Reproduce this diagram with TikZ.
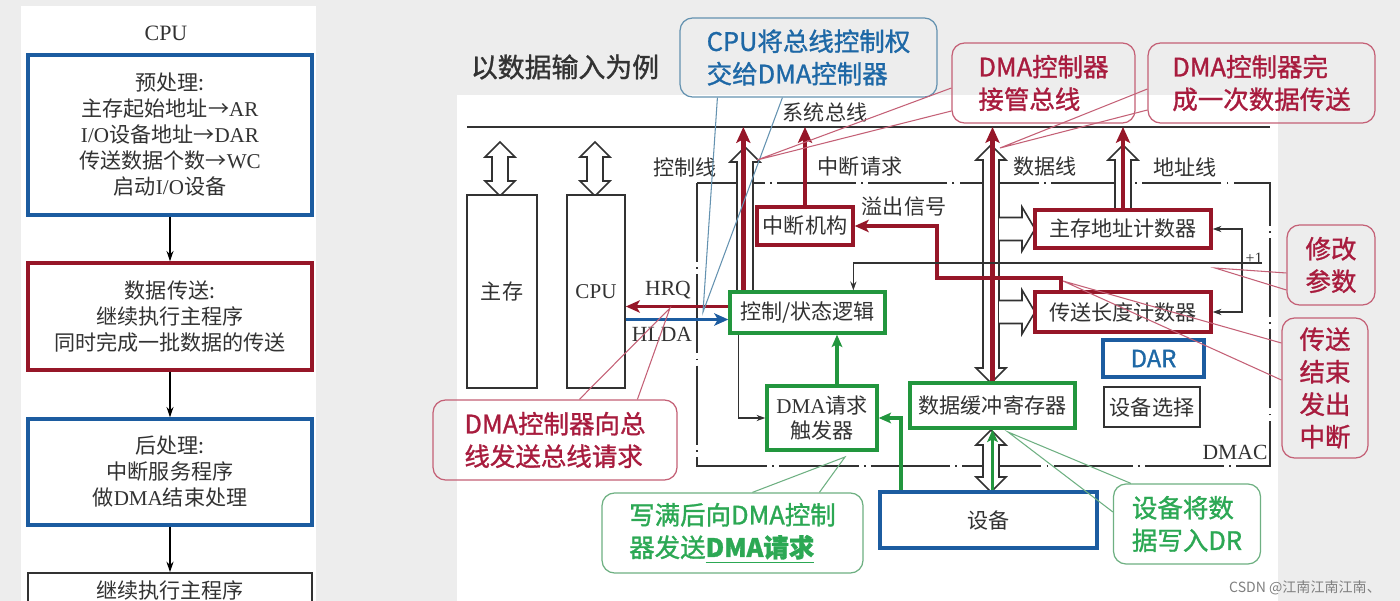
\documentclass[tikz,border=0pt]{standalone}
\usepackage{fontspec}
\setmainfont{Noto Sans CJK SC}
\newfontfamily\lat{Liberation Serif}
\newfontfamily\heavy{Noto Sans CJK SC}[FakeBold=1.2]
\usetikzlibrary{arrows.meta,positioning,calc}

\definecolor{bgray}{RGB}{237,237,237}
\definecolor{txt}{RGB}{50,50,50}
\definecolor{dred}{RGB}{150,22,40}
\definecolor{dblue}{RGB}{28,92,160}
\definecolor{dgreen}{RGB}{34,150,62}
\definecolor{cred}{RGB}{168,28,62}
\definecolor{credl}{RGB}{196,96,118}
\definecolor{cgreen}{RGB}{44,168,84}
\definecolor{cgreenl}{RGB}{110,176,130}
\definecolor{cblue}{RGB}{30,104,166}
\definecolor{cbluel}{RGB}{100,146,176}

% hollow bus arrows (x, top tip, bottom tip / end)
\newcommand{\hollowud}[3]{%
  \draw[hollow] (#1,#2) -- ++(15,15) -- ++(-7,0) -- ({#1+8},{#3-15}) -- ++(7,0)
    -- (#1,#3) -- ++(-15,-15) -- ++(7,0) -- ({#1-8},{#2+15}) -- ++(-7,0) -- cycle;}
\newcommand{\hollowup}[3]{%
  \draw[hollow] (#1,#2) -- ++(15,15) -- ++(-7,0) -- ({#1+8},#3) -- ({#1-8},#3)
    -- ({#1-8},{#2+15}) -- ++(-7,0) -- cycle;}
\newcommand{\hollowr}[3]{%
  \draw[hollow] (#1,{#3-11.5}) -- ({#2-13},{#3-11.5}) -- ({#2-13},{#3-22}) -- (#2,#3)
    -- ({#2-13},{#3+22}) -- ({#2-13},{#3+11.5}) -- (#1,{#3+11.5});}

\begin{document}
\begin{tikzpicture}[
    x=0.02cm, y=-0.02cm,
    every node/.style={text=txt},
    tag/.style={font=\fontsize{12}{14}\selectfont},
    flowbox/.style={draw=#1, line width=1.8pt, fill=white, minimum width=5.68cm,
        align=center, inner sep=0pt, font=\fontsize{12}{14.8}\selectfont},
    unit/.style={draw=#1, line width=1.9pt, fill=white, align=center, inner sep=0pt,
        font=\fontsize{12}{14.6}\selectfont},
    thinbox/.style={draw=txt, line width=0.9pt, fill=white, align=center, inner sep=0pt,
        font=\fontsize{12}{14.6}\selectfont},
    hollow/.style={draw=txt, line width=0.9pt, fill=white, line join=miter},
    bubble/.style={draw=#1, line width=0.7pt, rounded corners=0.25cm, align=left,
        inner sep=0pt, font=\heavy\fontsize{14.5}{18.5}\selectfont},
    tail/.style={draw=#1, line width=0.6pt},
    bus/.style={txt, line width=1.4pt},
    frame/.style={txt, line width=0.9pt, dash pattern=on 45pt off 3pt on 1pt off 3pt},
    flowarr/.style={black, line width=0.8pt, -{Stealth[length=6pt, width=4pt]}},
    redarr/.style={dred, line width=2.6pt, -{Stealth[length=9pt, width=8pt, inset=2pt]}},
    redline/.style={dred, line width=2.3pt, -{Stealth[length=8pt, width=7pt, inset=2pt]}},
    redsig/.style={dred, line width=2.2pt, -{Stealth[length=8pt, width=7pt, inset=2pt]}},
    bluesig/.style={dblue, line width=2.2pt, -{Stealth[length=8pt, width=7pt, inset=2pt]}},
    grnarr/.style={dgreen, line width=2.2pt, -{Stealth[length=7pt, width=6pt, inset=1.5pt]}},
    thinarr/.style={txt, line width=0.7pt, -{Stealth[length=5pt, width=3.5pt]}},
    thinline/.style={txt, line width=0.7pt}
]

% Background
\useasboundingbox (0,0) rectangle (1400,601);
\fill[bgray] (0,0) rectangle (1400,601);
\fill[white] (21,6) rectangle (316,601);
\fill[white] (457,95) rectangle (1278,601);

% Flow chart (left)
\node[font=\lat\fontsize{12.5}{14}\selectfont] (cputitle) at (166,33) {CPU};
\node[flowbox=dblue, minimum height=3.2cm] (pre) at (170,135)
    {预处理:\\主存起始地址→{\lat AR}\\{\lat I/O}设备地址→{\lat DAR}\\传送数据个数→{\lat WC}\\启动{\lat I/O}设备};
\node[flowbox=dred, minimum height=2.14cm] (xfer) at (170,316.5)
    {数据传送:\\继续执行主程序\\同时完成一批数据的传送};
\node[flowbox=dblue, minimum height=2.12cm] (post) at (170,472)
    {后处理:\\中断服务程序\\做{\lat DMA}结束处理};
\node[flowbox=txt, line width=0.9pt, minimum height=0.68cm] (cont) at (170,590) {继续执行主程序};

\draw[flowarr] (pre) -- (xfer);
\draw[flowarr] (xfer) -- (post);
\draw[flowarr] (post) -- (cont);

% Title
\node[font=\heavy\fontsize{15.3}{18}\selectfont] (title) at (565,67) {以数据输入为例};

% System bus
\coordinate (busL) at (467,127);
\coordinate (busR) at (1270,127);
\draw[bus] (busL) -- (busR);
\node[tag] (bustxt) at (825,112) {系统总线};

% DMAC frame
\draw[frame] (697,183) rectangle (1270,466);
\node[font=\lat\fontsize{12.3}{14}\selectfont] (dmac) at (1235,452) {DMAC};

% Hollow bus arrows
\hollowud{500}{142}{196}
\hollowud{595}{142}{196}
\hollowup{745}{147}{292}
\hollowud{991}{145}{383}
\hollowup{1123}{145}{210}
\hollowr{999}{1035}{229}
\hollowr{999}{1035}{312}
\hollowud{991}{430}{492}

% Units
\node[thinbox, minimum width=1.4cm, minimum height=3.86cm] (mem) at (502,291.5) {主存};
\node[thinbox, minimum width=1.16cm, minimum height=3.86cm] (cpu) at (596,291.5) {\lat CPU};
\node[unit=dred, minimum width=1.92cm, minimum height=0.76cm] (intr) at (805,226) {中断机构};
\node[unit=dgreen, minimum width=3.1cm, minimum height=0.82cm] (ctrl) at (807.5,312.5) {控制/状态逻辑};
\node[unit=dgreen, minimum width=2.2cm, minimum height=1.28cm] (req) at (822,418) {{\lat DMA}请求\\触发器};
\node[unit=dgreen, minimum width=3.3cm, minimum height=0.9cm] (buf) at (992.5,405.5) {数据缓冲寄存器};
\node[unit=dblue, minimum width=4.34cm, minimum height=1.12cm] (dev) at (988.5,520) {设备};
\node[unit=dred, minimum width=3.52cm, minimum height=0.76cm] (addr) at (1123,229) {主存地址计数器};
\node[unit=dred, minimum width=3.52cm, minimum height=0.8cm] (len) at (1123,312) {传送长度计数器};
\node[unit=dblue, minimum width=2.02cm, minimum height=0.74cm, text=cblue,
    font=\heavy\fontsize{13.5}{16}\selectfont] (dar) at (1153.5,358.5) {DAR};
\node[thinbox, minimum width=1.92cm, minimum height=0.8cm] (sel) at (1152,407) {设备选择};

% Line labels
\node[tag] (ctltxt) at (685,167) {控制线};
\node[tag] (irqtxt) at (860,167) {中断请求};
\node[tag] (ovftxt) at (904,207) {溢出信号};
\node[tag] (dattxt) at (1045,167) {数据线};
\node[tag] (adrtxt) at (1185,167) {地址线};
\node[font=\lat\fontsize{12.3}{14}\selectfont] (hrqtxt) at (668,290) {HRQ};
\node[font=\lat\fontsize{12.3}{14}\selectfont] (hldatxt) at (662,334) {HLDA};
\node[font=\lat\fontsize{9}{10}\selectfont] (inctxt) at (1254,258) {+1};

% Red signals to the bus
\coordinate (cb) at ($(ctrl.north west)+(15,0)$);
\draw[redarr] (cb) -- (cb |- busL);
\draw[redarr] (intr.north) -- (intr.north |- busL);
\draw[redarr] (buf.north) -- (buf.north |- busL);
\draw[redarr] (addr.north) -- (addr.north |- busL);

% Overflow
\coordinate (lentop) at ($(len.north west)+(28,0)$);
\coordinate (ovf) at (937,278);
\draw[redline] (lentop) |- (ovf) |- (intr.east);

% HRQ / HLDA
\coordinate (hrq) at ($(ctrl.west)+(0,-6)$);
\coordinate (hlda) at ($(ctrl.west)+(0,7)$);
\draw[redsig] (hrq) -- (hrq -| cpu.east);
\draw[bluesig] (hlda -| cpu.east) -- (hlda);

% DMA request
\coordinate (rq) at ($(req.north)+(15,0)$);
\draw[grnarr] (rq) -- (rq |- ctrl.south);
\coordinate (dv) at ($(dev.north west)+(23,0)$);
\draw[grnarr] (dv) |- (req.east);
\draw[grnarr] (buf.south |- dev.north) -- (buf.south);

% Control lines
\coordinate (cs) at ($(ctrl.south west)+(10,0)$);
\draw[thinarr] (cs) |- (req.west);
\coordinate (inc) at (1242,263);
\coordinate (incR) at (1262,263);
\coordinate (cin) at ($(ctrl.north west)+(125,0)$);
\draw[thinline] (incR) -- (inc);
\draw[thinarr] (inc) -| (cin);
\draw[thinarr] (inc) |- (addr.east);
\draw[thinarr] (inc) |- (len.east);

% Callouts
\node[bubble=cbluel, text=cblue, minimum width=5.14cm, minimum height=1.58cm] (co1) at (808.5,57.5)
    {CPU将总线控制权\\交给DMA控制器};
\coordinate (t1) at (703,312);
\draw[tail=cbluel] ($(co1.south west)+(38,0)$) -- (t1) -- ($(co1.south west)+(103,0)$);

\node[bubble=credl, text=cred, minimum width=3.66cm, minimum height=1.6cm] (co2) at (1043.5,83)
    {DMA控制器\\接管总线};
\coordinate (t2) at (757,160);
\draw[tail=credl] ($(co2.west)+(0,5)$) -- (t2) -- ($(co2.west)+(0,28)$);

\node[bubble=credl, text=cred, minimum width=4.54cm, minimum height=1.6cm] (co3) at (1261.5,83)
    {DMA控制器完\\成一次数据传送};
\coordinate (t3) at (1000,148);
\draw[tail=credl] ($(co3.west)+(0,6)$) -- (t3) -- ($(co3.west)+(0,27)$);

\node[bubble=credl, text=cred, minimum width=1.76cm, minimum height=1.6cm] (co4) at (1331,265)
    {修改\\参数};
\coordinate (t4) at (1215,268);
\draw[tail=credl] ($(co4.west)+(0,8)$) -- (t4) -- ($(co4.west)+(0,25)$);

\node[bubble=credl, text=cred, minimum width=1.72cm, minimum height=2.8cm] (co5) at (1325,388)
    {传送\\结束\\发出\\中断};
\coordinate (t5) at (1063,281);
\draw[tail=credl] ($(co5.west)+(0,-45)$) -- (t5) -- ($(co5.west)+(0,-8)$);

\node[bubble=credl, text=cred, minimum width=4.88cm, minimum height=1.6cm] (co6) at (555,440)
    {DMA控制器向总\\线发送总线请求};
\coordinate (t6) at (670,308);
\draw[tail=credl] ($(co6.north west)+(147,0)$) -- (t6) -- ($(co6.north west)+(205,0)$);

\node[bubble=cgreenl, text=cgreen, minimum width=5.22cm, minimum height=1.6cm] (co7) at (732.5,533)
    {写满后向DMA控制\\器发送\underline{\textbf{DMA请求}}};
\coordinate (t7) at (845,457);
\draw[tail=cgreenl] ($(co7.north west)+(151,0)$) -- (t7) -- ($(co7.north west)+(218,0)$);

\node[bubble=cgreenl, text=cgreen, minimum width=2.94cm, minimum height=1.6cm] (co8) at (1187,524)
    {设备将数\\据写入DR};
\coordinate (t8) at (1008,432);
\draw[tail=cgreenl] ($(co8.west)+(0,-12)$) -- (t8) -- ($(co8.north west)+(18,0)$);

% Watermark
\node[font=\fontsize{8}{9}\selectfont, text=gray] (mark) at (1305,588) {CSDN @江南江南江南、};

\end{tikzpicture}
\end{document}
